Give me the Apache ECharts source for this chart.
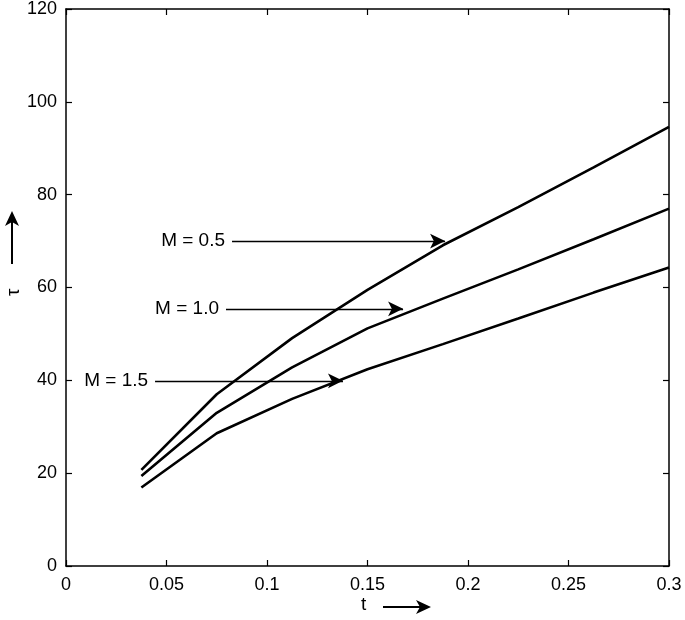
<!DOCTYPE html>
<html>
<head>
<meta charset="utf-8">
<script src="https://cdn.jsdelivr.net/npm/echarts@6/dist/echarts.min.js"></script>
<style>
    html, body { margin: 0; padding: 0; background: #fff; }
    #main { width: 685px; height: 620px; }
</style>
</head>
<body>
<div id="main"></div>
<script>
var tValues = [0.0375, 0.075, 0.1125, 0.15, 0.1875, 0.225, 0.2625, 0.3];
var tauM05 = [20.7, 37.0, 49.1, 59.5, 69.1, 77.3, 85.9, 94.6];
var tauM10 = [19.4, 33.0, 42.8, 51.2, 57.6, 63.9, 70.4, 77.0];
var tauM15 = [16.9, 28.6, 36.0, 42.4, 47.8, 53.3, 58.9, 64.3];

var seriesNames = ['M = 0.5', 'M = 1.0', 'M = 1.5'];
var arrowY = [70.0, 55.4, 39.9];
var arrowStart = [0.0826, 0.0796, 0.0443];
var arrowEnd = [0.1886, 0.1677, 0.1378];

var xTicks = ['0', '0.05', '0.1', '0.15', '0.2', '0.25', '0.3'];

var font = 'Liberation Sans, Arial, sans-serif';

function pairs(ys) {
    return tValues.map(function (t, i) { return [t, ys[i]]; });
}

function makeSeries(name, ys, idx) {
    return {
        name: name,
        type: 'line',
        data: pairs(ys),
        showSymbol: false,
        smooth: false,
        lineStyle: { color: '#000', width: 2.6 },
        markLine: {
            silent: true,
            symbol: ['none', 'arrow'],
            symbolSize: [11, 15],
            lineStyle: { color: '#000', width: 1.3, type: 'solid' },
            label: {
                show: true,
                position: 'start',
                distance: 7,
                formatter: name,
                color: '#000',
                fontFamily: font,
                fontSize: 19
            },
            data: [[
                { coord: [arrowStart[idx], arrowY[idx]] },
                { coord: [arrowEnd[idx], arrowY[idx]] }
            ]]
        }
    };
}

var myChart = echarts.init(document.getElementById('main'));

var axisLine = { show: true, onZero: false, lineStyle: { color: '#000', width: 1.5 } };
var axisTick = { show: true, inside: true, length: 6, lineStyle: { color: '#000', width: 1.2 } };

var option = {
    backgroundColor: '#fff',
    animation: false,
    grid: { left: 66, right: 16, top: 6, bottom: 54 },
    xAxis: [{
        type: 'value',
        min: 0, max: 0.3, interval: 0.05,
        axisLine: axisLine,
        axisTick: axisTick,
        splitLine: { show: false },
        axisLabel: {
            color: '#000', fontFamily: font, fontSize: 18, margin: 10,
            formatter: function (v) {
                var i = Math.round(v / 0.05);
                return xTicks[i];
            }
        }
    }, {
        type: 'value', position: 'top',
        min: 0, max: 0.3, interval: 0.05,
        axisLine: axisLine, axisTick: axisTick,
        axisLabel: { show: false }, splitLine: { show: false }
    }],
    yAxis: [{
        type: 'value',
        min: 0, max: 120, interval: 20,
        axisLine: axisLine,
        axisTick: axisTick,
        splitLine: { show: false },
        axisLabel: { color: '#000', fontFamily: font, fontSize: 18, margin: 9 }
    }, {
        type: 'value', position: 'right',
        min: 0, max: 120, interval: 20,
        axisLine: axisLine, axisTick: axisTick,
        axisLabel: { show: false }, splitLine: { show: false }
    }],
    graphic: [
        { type: 'text', left: 361, top: 595, style: { text: 't', fill: '#000', font: '19px ' + font } },
        { type: 'line', shape: { x1: 383, y1: 607, x2: 420, y2: 607 }, style: { stroke: '#000', lineWidth: 2 } },
        { type: 'polygon', shape: { points: [[431, 607], [416, 600], [420, 607], [416, 614]] }, style: { fill: '#000' } },
        { type: 'text', x: 4, y: 296, rotation: Math.PI / 2, style: { text: 'τ', fill: '#000', font: '19px ' + font } },
        { type: 'line', shape: { x1: 12, y1: 264, x2: 12, y2: 222 }, style: { stroke: '#000', lineWidth: 2 } },
        { type: 'polygon', shape: { points: [[12, 211], [5, 226], [12, 222], [19, 226]] }, style: { fill: '#000' } }
    ],
    series: [
        makeSeries(seriesNames[0], tauM05, 0),
        makeSeries(seriesNames[1], tauM10, 1),
        makeSeries(seriesNames[2], tauM15, 2)
    ]
};
myChart.setOption(option);
</script>
</body>
</html>
